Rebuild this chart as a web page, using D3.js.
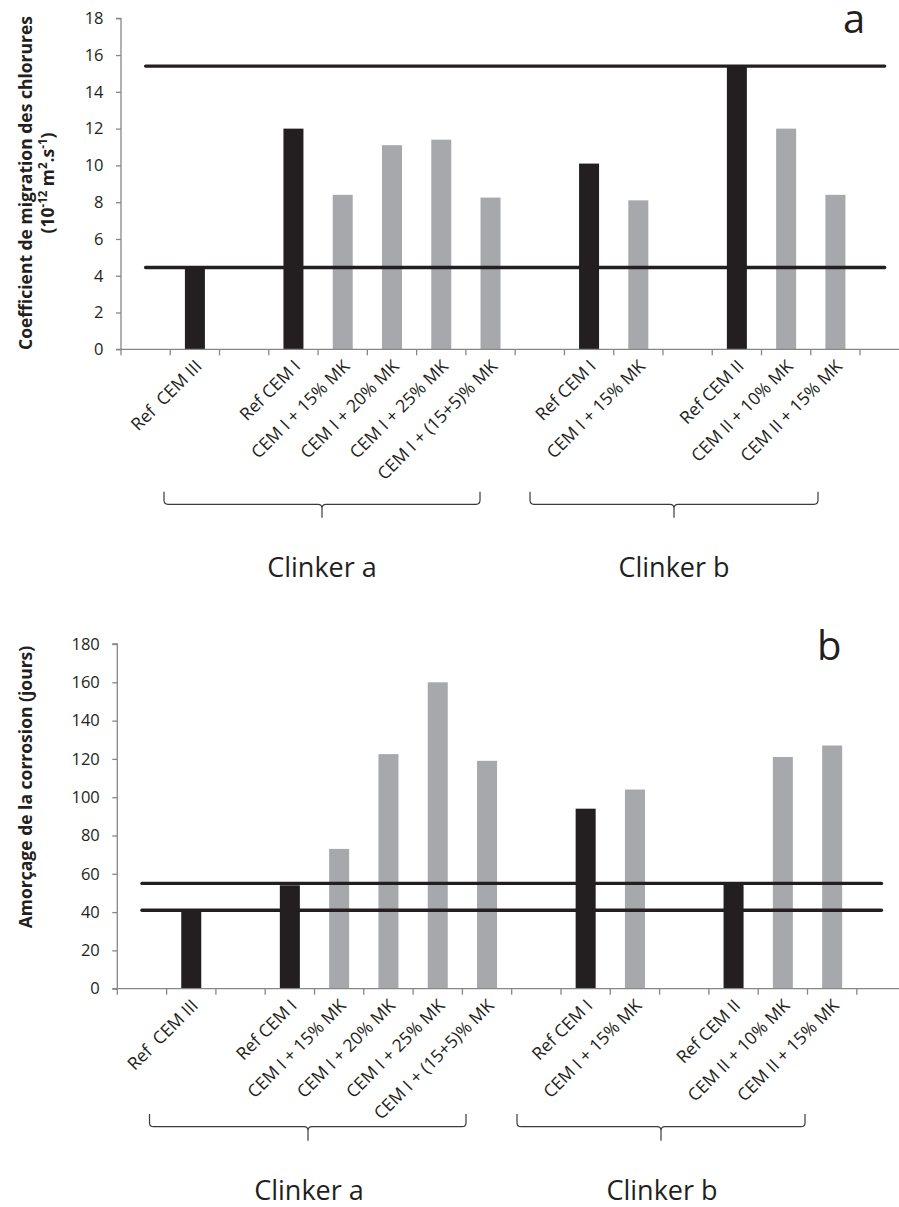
<!DOCTYPE html>
<html>
<head>
<meta charset="utf-8">
<script src="https://cdn.jsdelivr.net/npm/d3@7"></script>
<style>
  html, body { margin: 0; padding: 0; background: #fff; }
  svg { display: block; font-family: "Open Sans", "Noto Sans", sans-serif; }
</style>
</head>
<body>
<svg id="chart" width="899" height="1207"></svg>
<script>
// ---------- DATA ----------
const categories = ["", "Ref  CEM III", "", "Ref CEM I", "CEM I + 15% MK", "CEM I + 20% MK",
  "CEM I + 25% MK", "CEM I + (15+5)% MK", "", "Ref CEM I", "CEM I + 15% MK", "",
  "Ref CEM II", "CEM II + 10% MK", "CEM II + 15% MK", ""];
const barType = ["", "ref", "", "ref", "mk", "mk", "mk", "mk", "", "ref", "mk", "", "ref", "mk", "mk", ""];

const chlorideValues = [null, 4.5, null, 12.0, 8.4, 11.1, 11.4, 8.25, null, 10.1, 8.1, null, 15.4, 12.0, 8.4, null];
const chlorideLimits = [15.4, 4.45];
const chlorideTicks = [0, 2, 4, 6, 8, 10, 12, 14, 16, 18];

const corrosionValues = [null, 41, null, 54, 73, 122.5, 160, 119, null, 94, 104, null, 55, 121, 127, null];
const corrosionLimits = [55, 41];
const corrosionTicks = [0, 20, 40, 60, 80, 100, 120, 140, 160, 180];

const groupLabels = ["Clinker a", "Clinker b"];
const panelLetters = ["a", "b"];

// ---------- STYLE ----------
const colors = { ref: "#231f20", mk: "#a6a8ab" };
const axisColor = "#878787";
const svg = d3.select("#chart");

function drawPanel(cfg) {
  const g = svg.append("g");
  const idx = d3.range(categories.length);
  const x = d3.scaleBand().domain(idx)
    .range([cfg.x0, cfg.x0 + cfg.step * categories.length])
    .paddingInner(0.594).paddingOuter(0.297);
  const y = d3.scaleLinear().domain([0, cfg.yMax]).range([cfg.y0, cfg.yTop]);

  // bars
  g.selectAll("rect.bar").data(idx.filter(i => cfg.values[i] != null)).enter()
    .append("rect").attr("class", "bar")
    .attr("x", i => x(i)).attr("width", x.bandwidth())
    .attr("y", i => y(cfg.values[i])).attr("height", i => y(0) - y(cfg.values[i]))
    .attr("fill", i => colors[barType[i]]);

  // limit lines (series across category centers)
  const c0 = x(0) + x.bandwidth() / 2, c1 = x(categories.length - 1) + x.bandwidth() / 2;
  cfg.limits.forEach(v => {
    g.append("line").attr("x1", c0).attr("x2", c1).attr("y1", y(v)).attr("y2", y(v))
      .attr("stroke", "#231f20").attr("stroke-width", 3.4).attr("stroke-linecap", "round");
  });

  // y axis
  const ya = g.append("g").attr("transform", `translate(${cfg.x0},0)`)
    .call(d3.axisLeft(y).tickValues(cfg.ticks).tickSize(5).tickPadding(12.5).tickFormat(d3.format("d")));
  ya.selectAll("path,line").attr("stroke", axisColor).attr("stroke-width", 1.3);
  ya.select("path.domain").attr("d", `M-5,${y(cfg.yMax)}H0V${y(0)}`);
  ya.selectAll("text").attr("fill", "#231f20").attr("font-size", 16.5).attr("font-family", "Open Sans");

  // x axis (ticks between categories)
  const xEnd = cfg.x0 + cfg.step * categories.length;
  g.append("line").attr("x1", cfg.x0 - 5).attr("x2", xEnd).attr("y1", cfg.y0).attr("y2", cfg.y0)
    .attr("stroke", axisColor).attr("stroke-width", 1.3);
  g.selectAll("line.xt").data(d3.range(categories.length + 1)).enter().append("line")
    .attr("class", "xt")
    .attr("x1", i => cfg.x0 + i * cfg.step).attr("x2", i => cfg.x0 + i * cfg.step)
    .attr("y1", cfg.y0).attr("y2", cfg.y0 + 6)
    .attr("stroke", axisColor).attr("stroke-width", 1.3);

  // category labels
  g.selectAll("text.cat").data(idx.filter(i => categories[i] !== "")).enter()
    .append("text").attr("class", "cat")
    .attr("transform", i => `translate(${x(i) + x.bandwidth() / 2 + 8},${cfg.y0 + 18}) rotate(-45)`)
    .attr("text-anchor", "end").attr("font-size", 17.5).attr("fill", "#231f20")
    .style("white-space", "pre")
    .text(i => categories[i]);

  // brackets
  cfg.brackets.forEach((b, k) => {
    const r = 4;
    const p = `M${b.x1},${cfg.bTop} V${cfg.bH - r} Q${b.x1},${cfg.bH} ${b.x1 + r},${cfg.bH} H${b.xm - r} Q${b.xm},${cfg.bH} ${b.xm},${cfg.bH + r} V${cfg.bTip}` +
      ` M${b.xm},${cfg.bH + r} Q${b.xm},${cfg.bH} ${b.xm + r},${cfg.bH} H${b.x2 - r} Q${b.x2},${cfg.bH} ${b.x2},${cfg.bH - r} V${cfg.bTop}`;
    g.append("path").attr("d", p).attr("fill", "none").attr("stroke", "#3a3a3a").attr("stroke-width", 1.2);
    g.append("text").attr("x", b.tx).attr("y", cfg.labelY).attr("text-anchor", "middle")
      .attr("font-size", 27).attr("fill", "#231f20").text(groupLabels[k]);
  });

  // panel letter
  g.append("text").attr("x", cfg.letterX).attr("y", cfg.letterY).attr("font-size", 40)
    .attr("fill", "#231f20").text(cfg.letter);

  // y title
  const t = g.append("g").attr("transform", `translate(${cfg.titleX},${cfg.titleY}) rotate(-90)`);
  cfg.titleLines.forEach((ln, k) => {
    const tx = t.append("text").attr("x", 0).attr("y", k * 22).attr("text-anchor", "middle")
      .attr("font-size", 17.5).attr("font-weight", "bold").attr("fill", "#231f20");
    ln.forEach(seg => {
      const ts = tx.append("tspan").text(seg.t);
      if (seg.sup) ts.attr("baseline-shift", "super").attr("font-size", 11.5);
    });
  });
}

drawPanel({
  values: chlorideValues, limits: chlorideLimits, ticks: chlorideTicks, yMax: 18,
  x0: 121, step: 49.27, y0: 349.3, yTop: 18.3,
  brackets: [{ x1: 164, x2: 480, xm: 322, tx: 322 }, { x1: 530, x2: 818, xm: 674, tx: 674 }],
  bTop: 491.7, bH: 504.3, bTip: 517.7, labelY: 577,
  letter: panelLetters[0], letterX: 843, letterY: 32.7,
  titleX: 32, titleY: 183,
  titleLines: [[{ t: "Coefficient de migration des chlorures" }],
    [{ t: "(10" }, { t: "-12", sup: true }, { t: " m" }, { t: "2", sup: true }, { t: ".s" }, { t: "-1", sup: true }, { t: ")" }]]
});

drawPanel({
  values: corrosionValues, limits: corrosionLimits, ticks: corrosionTicks, yMax: 180,
  x0: 117.3, step: 49.3, y0: 988.7, yTop: 644,
  brackets: [{ x1: 149.5, x2: 466, xm: 308, tx: 309 }, { x1: 517, x2: 805, xm: 661, tx: 662 }],
  bTop: 1114, bH: 1126.7, bTip: 1140.7, labelY: 1200,
  letter: panelLetters[1], letterX: 817, letterY: 660,
  titleX: 32, titleY: 787,
  titleLines: [[{ t: "Amorçage de la corrosion (jours)" }]]
});
</script>
</body>
</html>
